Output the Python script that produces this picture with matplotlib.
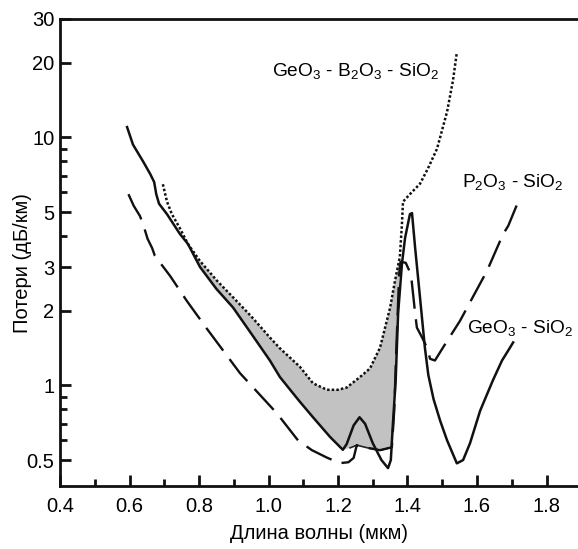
import numpy as np
import matplotlib.pyplot as plt
from matplotlib.ticker import FixedLocator, FixedFormatter, NullFormatter

plt.rcParams['font.family'] = ['Liberation Sans', 'DejaVu Sans']
plt.rcParams['mathtext.fontset'] = 'custom'
plt.rcParams['mathtext.rm'] = 'Liberation Sans'
plt.rcParams['mathtext.it'] = 'Liberation Sans:italic'
plt.rcParams['mathtext.bf'] = 'Liberation Sans:bold'

# GeO3 - SiO2 (сплошная линия)
ge_w = [0.593, 0.61, 0.639, 0.66, 0.671, 0.677, 0.685, 0.708, 0.745, 0.768,
        0.803, 0.85, 0.898, 0.95, 1.004, 1.033, 1.065, 1.09, 1.128, 1.177, 1.214,
        1.225, 1.245, 1.262, 1.278, 1.30, 1.325, 1.344, 1.352, 1.358, 1.366,
        1.373, 1.384, 1.393, 1.407, 1.413, 1.422, 1.436, 1.45, 1.46, 1.475,
        1.494, 1.514, 1.542, 1.56, 1.58, 1.609, 1.62, 1.646, 1.672, 1.695, 1.704]
ge_L = [11.0, 9.35, 8.0, 7.1, 6.6, 5.9, 5.4, 4.9, 4.08, 3.72,
        3.0, 2.45, 2.06, 1.62, 1.26, 1.08, 0.95, 0.86, 0.744, 0.62, 0.55,
        0.58, 0.69, 0.744, 0.70, 0.585, 0.50, 0.464, 0.50, 0.70, 1.05,
        1.95, 3.09, 3.93, 4.9, 4.95, 3.58, 2.26, 1.42, 1.1, 0.88,
        0.72, 0.60, 0.485, 0.50, 0.585, 0.79, 0.86, 1.05, 1.26, 1.42, 1.49]

# P2O3 - SiO2 (штриховая)
p_w = [0.597, 0.612, 0.630, 0.639, 0.652, 0.665, 0.673, 0.717, 0.765, 0.823,
       0.918, 1.024, 1.085, 1.125, 1.17, 1.206, 1.23, 1.245, 1.254, 1.285,
       1.321, 1.355, 1.362, 1.367, 1.372, 1.376, 1.38, 1.395, 1.41, 1.416,
       1.422, 1.427, 1.442, 1.456, 1.465, 1.479, 1.502, 1.551, 1.629, 1.675,
       1.69, 1.705, 1.722]
p_L = [5.9, 5.3, 4.82, 4.47, 3.9, 3.58, 3.33, 2.76, 2.19, 1.69,
       1.12, 0.772, 0.60, 0.548, 0.51, 0.486, 0.49, 0.51, 0.574, 0.56,
       0.548, 0.563, 0.8, 1.3, 2.0, 2.8, 3.15, 3.12, 2.8, 2.34,
       1.95, 1.71, 1.56, 1.42, 1.28, 1.26, 1.42, 1.82, 2.9, 4.07,
       4.4, 4.95, 5.65]

# GeO3 - B2O3 - SiO2 (точечная)
gb_w = [0.696, 0.708, 0.722, 0.745, 0.768, 0.803, 0.852, 0.90, 0.95, 1.004,
        1.033, 1.09, 1.128, 1.168, 1.20, 1.225, 1.263, 1.292, 1.321, 1.35,
        1.364, 1.378, 1.384, 1.387, 1.407, 1.436, 1.459, 1.485, 1.514, 1.531, 1.542]
gb_L = [6.47, 5.5, 4.9, 4.3, 3.72, 3.17, 2.64, 2.25, 1.9, 1.56,
        1.41, 1.19, 1.02, 0.96, 0.96, 0.98, 1.08, 1.17, 1.42, 2.06,
        2.64, 3.3, 4.47, 5.5, 5.9, 6.5, 7.5, 9.0, 12.7, 17.0, 22.0]

# нижняя граница серой области после 1.21 мкм
edge_w = [1.214, 1.235, 1.254, 1.285, 1.321, 1.355, 1.362, 1.366, 1.373, 1.378]
edge_L = [0.55, 0.56, 0.574, 0.56, 0.548, 0.563, 0.8, 1.05, 1.95, 3.3]

y_major = [0.5, 1, 2, 3, 5, 10, 20, 30]
y_minor = [0.6, 0.7, 0.8, 0.9, 4, 6, 7, 8, 9]
x_major = [0.4, 0.6, 0.8, 1.0, 1.2, 1.4, 1.6, 1.8]
x_minor = [0.5, 0.7, 0.9, 1.1, 1.3, 1.5, 1.7]

fig = plt.figure(figsize=(5.78, 5.49), dpi=100)
ax = fig.add_axes([60 / 578, 1 - 486 / 549, 518 / 578, 467 / 549])
ax.set_yscale('log')

# серая область между кривыми
gb_w_a = np.array(gb_w)
gb_L_a = np.array(gb_L)
m_up = (gb_w_a >= 0.768) & (gb_w_a <= 1.378)
ge_w_a = np.array(ge_w)
ge_L_a = np.array(ge_L)
m_lo = (ge_w_a >= 0.768) & (ge_w_a < 1.214)
low_w = np.concatenate([ge_w_a[m_lo], edge_w])
low_L = np.concatenate([ge_L_a[m_lo], edge_L])
poly_w = np.concatenate([gb_w_a[m_up], low_w[::-1]])
poly_L = np.concatenate([gb_L_a[m_up], low_L[::-1]])
ax.fill(poly_w, poly_L, color='#c2c2c2', lw=0, zorder=1)

ax.plot(edge_w[1:6], edge_L[1:6], color='#222222', lw=1.2, zorder=2)
ax.plot(gb_w, gb_L, color='#111111', lw=1.8, linestyle=(0, (1, 0.85)), zorder=3)
ax.plot(p_w, p_L, color='#111111', lw=1.7, dashes=(12, 4.5), zorder=3)
ax.plot(ge_w, ge_L, color='#111111', lw=1.8, zorder=4)

ax.text(1.010, 17.6, r'GeO$_\mathrm{3}$ - B$_\mathrm{2}$O$_\mathrm{3}$ - SiO$_\mathrm{2}$',
        fontsize=13.8, ha='left', va='baseline')
ax.text(1.557, 6.3, r'P$_\mathrm{2}$O$_\mathrm{3}$ - SiO$_\mathrm{2}$',
        fontsize=13.8, ha='left', va='baseline')
ax.text(1.571, 1.63, r'GeO$_\mathrm{3}$ - SiO$_\mathrm{2}$',
        fontsize=13.8, ha='left', va='baseline')

ax.set_xlim(0.4, 0.4 + 518 / 347.5)
ax.set_ylim(0.393, 30)

ax.yaxis.set_major_locator(FixedLocator(y_major))
ax.yaxis.set_major_formatter(FixedFormatter(['0.5', '1', '2', '3', '5', '10', '20', '30']))
ax.yaxis.set_minor_locator(FixedLocator(y_minor))
ax.yaxis.set_minor_formatter(NullFormatter())
ax.xaxis.set_major_locator(FixedLocator(x_major))
ax.xaxis.set_major_formatter(FixedFormatter(['%.1f' % v for v in x_major]))
ax.xaxis.set_minor_locator(FixedLocator(x_minor))

ax.spines['right'].set_visible(False)
for s in ['left', 'top', 'bottom']:
    ax.spines[s].set_linewidth(2.0)
    ax.spines[s].set_color('#111111')

ax.tick_params(which='major', direction='in', length=8, width=2, color='#111111',
               labelsize=14.5, pad=4)
ax.tick_params(which='minor', direction='in', length=5, width=2, color='#111111')
ax.tick_params(axis='x', which='major', pad=8)

ax.set_xlabel('Длина волны (мкм)', fontsize=14.5)
ax.set_ylabel('Потери (дБ/км)', fontsize=14.5)
ax.xaxis.set_label_coords(0.5, -0.082)
ax.yaxis.set_label_coords(-0.054, 0.477)

fig.savefig('out.png', dpi=100)
